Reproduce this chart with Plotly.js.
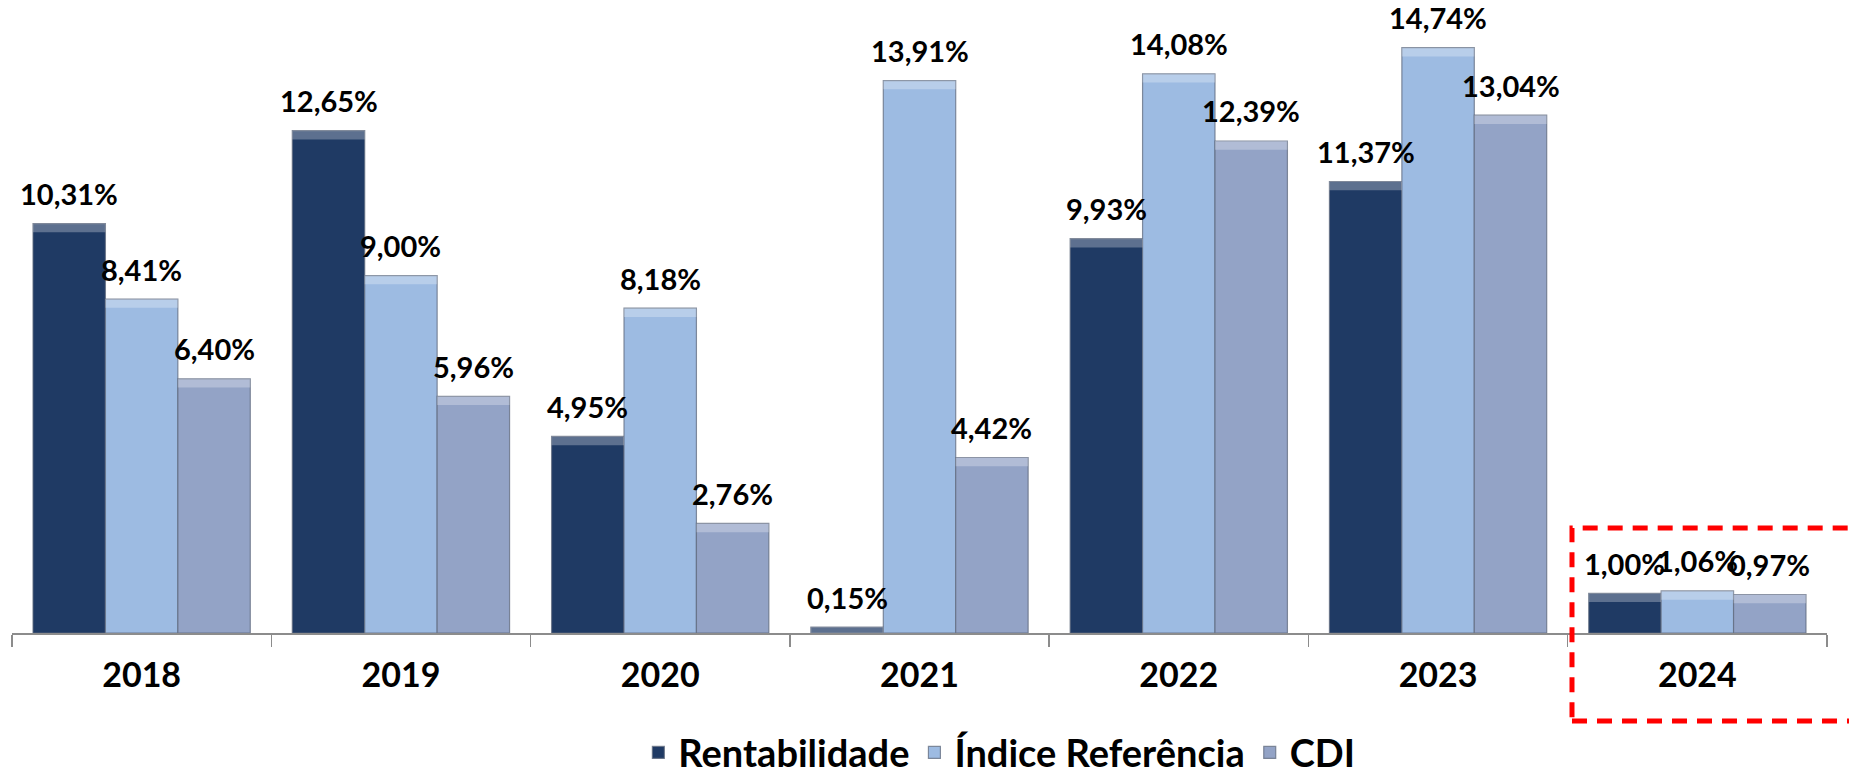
<!DOCTYPE html>
<html>
<head>
<meta charset="utf-8">
<script src="https://cdn.plot.ly/plotly-3.0.1.min.js"></script>
<style>
  html, body { margin: 0; padding: 0; background: #ffffff; }
  #chart { width: 1849px; height: 780px; }
</style>
</head>
<body>
<div id="chart"></div>
<script>
// Annual returns (%) per year
const years = ['2018', '2019', '2020', '2021', '2022', '2023', '2024'];
const rentabilidade = [10.31, 12.65, 4.95, 0.15, 9.93, 11.37, 1.00];
const indiceReferencia = [8.41, 9.00, 8.18, 13.91, 14.08, 14.74, 1.06];
const cdi = [6.40, 5.96, 2.76, 4.42, 12.39, 13.04, 0.97];

const seriesNames = ['Rentabilidade', 'Índice Referência', 'CDI'];
const seriesValues = [rentabilidade, indiceReferencia, cdi];
const seriesColors = ['#1f3a64', '#9dbbe2', '#93a3c6'];

const FONT = 'Lato, "Open Sans", sans-serif';
const BARGAP = 0.162;
const BEVEL = 0.22; // thickness (in %) of the light top edge

const traces = [];
seriesValues.forEach((vals, k) => {
  traces.push({
    type: 'bar',
    name: seriesNames[k],
    x: years,
    y: vals,
    offsetgroup: String(k),
    marker: {
      color: seriesColors[k],
      line: { color: 'rgba(95,105,125,0.75)', width: 1.2 },
    },
    hoverinfo: 'skip',
  });
});

// light strip on top of every bar, a rough take on the bevel look
seriesValues.forEach((vals, k) => {
  const h = vals.map(v => Math.min(BEVEL, v));
  traces.push({
    type: 'bar',
    x: years,
    y: h,
    base: vals.map((v, i) => v - h[i]),
    offsetgroup: String(k),
    showlegend: false,
    marker: {
      color: 'rgba(255,255,255,0.28)',
      line: { width: 0 },
    },
    hoverinfo: 'skip',
  });
});

// Data labels placed over each grouped bar
const barW = (1 - BARGAP) / seriesValues.length;
const annotations = [];
seriesValues.forEach((vals, k) => {
  vals.forEach((v, i) => {
    annotations.push({
      x: i + (k - (seriesValues.length - 1) / 2) * barW,
      y: v,
      xref: 'x',
      yref: 'y',
      text: v.toFixed(2).replace('.', ',') + '%',
      showarrow: false,
      yanchor: 'middle',
      yshift: 30,
      font: { family: FONT, size: 29, color: '#000000', weight: 'bold' },
    });
  });
});

const layout = {
  width: 1849,
  height: 780,
  paper_bgcolor: '#ffffff',
  plot_bgcolor: '#ffffff',
  margin: { t: 0, r: 22, b: 147, l: 12 },
  barmode: 'group',
  bargap: BARGAP,
  bargroupgap: 0,
  font: { family: FONT, color: '#000000' },
  xaxis: {
    type: 'category',
    showline: true,
    linecolor: '#8c8c8c',
    linewidth: 1.5,
    ticks: 'outside',
    tickson: 'boundaries',
    ticklen: 12,
    tickwidth: 1.5,
    tickcolor: '#8c8c8c',
    ticklabelstandoff: 12,
    tickfont: { family: FONT, size: 34, color: '#000000', weight: 'bold' },
    showgrid: false,
    zeroline: false,
  },
  yaxis: {
    range: [0, 15.94],
    visible: false,
    showgrid: false,
    zeroline: false,
  },
  showlegend: true,
  legend: {
    orientation: 'h',
    x: 0.544,
    xanchor: 'center',
    yref: 'container',
    y: 0.035,
    yanchor: 'middle',
    font: { family: FONT, size: 38, color: '#000000', weight: 'bold' },
    bgcolor: 'rgba(0,0,0,0)',
  },
  annotations,
  shapes: [
    // red dashed highlight around the latest year
    {
      type: 'rect',
      xref: 'paper',
      yref: 'paper',
      x0: 0.8595, x1: 1.02,
      y0: -0.139, y1: 0.166,
      line: { color: '#ff0000', width: 5, dash: '15px,10px' },
      fillcolor: 'rgba(0,0,0,0)',
    },
  ],
};

Plotly.newPlot('chart', traces, layout, { displayModeBar: false, staticPlot: true });
</script>
</body>
</html>
